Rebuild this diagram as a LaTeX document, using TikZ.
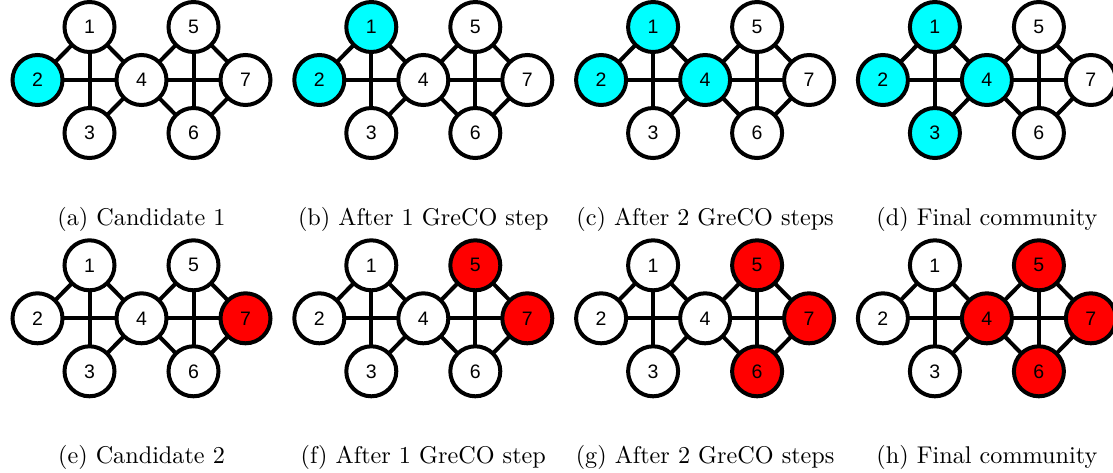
\documentclass[tikz,border=0pt]{standalone}
\usepackage{fontspec}
\newfontfamily\digitfont{Liberation Sans}
\newfontfamily\capfont{lmroman10-regular.otf}
\usetikzlibrary{backgrounds}
\definecolor{commcyan}{RGB}{0,255,255}
\definecolor{commred}{RGB}{255,0,0}
\tikzset{
  vtx/.style={circle, draw=black, line width=4pt, fill=white, minimum size=50pt,
    inner sep=0pt, font=\digitfont\fontsize{19.5}{20}\selectfont},
  link/.style={draw=black, line width=4pt},
  subcap/.style={anchor=base, inner sep=0pt, font=\capfont\fontsize{24.2}{29}\selectfont},
  cy/.style={fill=commcyan}, rd/.style={fill=commred},
  v1/.style={}, v2/.style={}, v3/.style={}, v4/.style={},
  v5/.style={}, v6/.style={}, v7/.style={}
}
\newcommand\grecopanel[4]{%
  \begin{scope}[shift={#2},#4]
    \node[vtx,v1] (#1-1) at (-52,-53) {1};
    \node[vtx,v2] (#1-2) at (-104,0) {2};
    \node[vtx,v3] (#1-3) at (-52,53) {3};
    \node[vtx,v4] (#1-4) at (0,0) {4};
    \node[vtx,v5] (#1-5) at (52,-53) {5};
    \node[vtx,v6] (#1-6) at (52,53) {6};
    \node[vtx,v7] (#1-7) at (104,0) {7};
    \begin{scope}[on background layer]
      \draw[link] (#1-1.center) -- (#1-2.center);
      \draw[link] (#1-1.center) -- (#1-3.center);
      \draw[link] (#1-1.center) -- (#1-4.center);
      \draw[link] (#1-2.center) -- (#1-4.center);
      \draw[link] (#1-3.center) -- (#1-4.center);
      \draw[link] (#1-4.center) -- (#1-5.center);
      \draw[link] (#1-4.center) -- (#1-6.center);
      \draw[link] (#1-4.center) -- (#1-7.center);
      \draw[link] (#1-5.center) -- (#1-6.center);
      \draw[link] (#1-5.center) -- (#1-7.center);
      \draw[link] (#1-6.center) -- (#1-7.center);
    \end{scope}
    \node[subcap] (#1-cap) at (0,145) {#3};
  \end{scope}}
\begin{document}
\begin{tikzpicture}[x=1pt,y=-1pt]
  \useasboundingbox (0,0) rectangle (1113,472);
  \grecopanel{a}{(141.5,80)}{(a) Candidate 1}{v2/.style=cy}
  \grecopanel{b}{(423.3,80)}{(b) After 1 GreCO step}{v1/.style=cy,v2/.style=cy}
  \grecopanel{c}{(705.1,80)}{(c) After 2 GreCO steps}{v1/.style=cy,v2/.style=cy,v4/.style=cy}
  \grecopanel{d}{(986.9,80)}{(d) Final community}{v1/.style=cy,v2/.style=cy,v3/.style=cy,v4/.style=cy}
  \grecopanel{e}{(141.5,318.3)}{(e) Candidate 2}{v7/.style=rd}
  \grecopanel{f}{(423.3,318.3)}{(f) After 1 GreCO step}{v5/.style=rd,v7/.style=rd}
  \grecopanel{g}{(705.1,318.3)}{(g) After 2 GreCO steps}{v5/.style=rd,v6/.style=rd,v7/.style=rd}
  \grecopanel{h}{(986.9,318.3)}{(h) Final community}{v4/.style=rd,v5/.style=rd,v6/.style=rd,v7/.style=rd}
\end{tikzpicture}
\end{document}
